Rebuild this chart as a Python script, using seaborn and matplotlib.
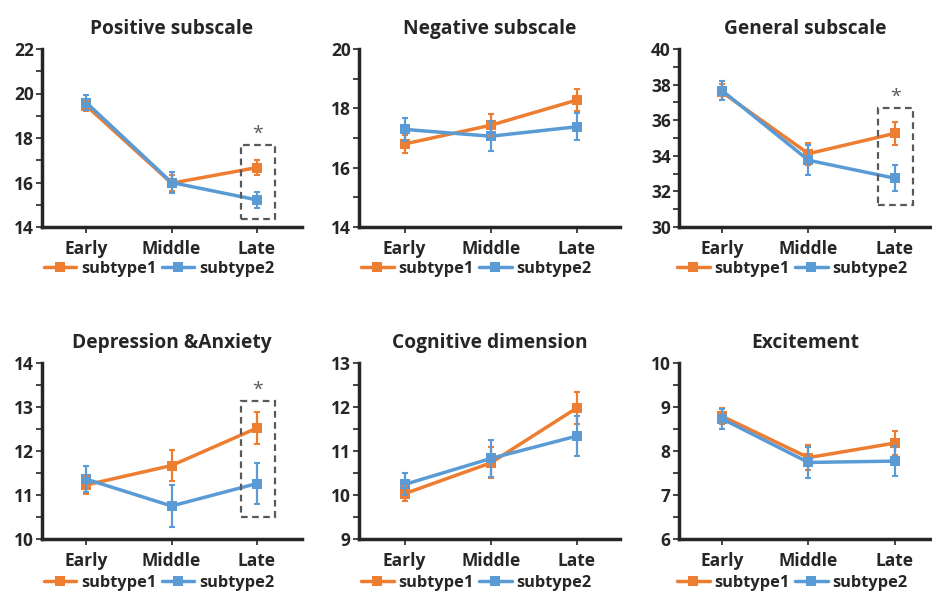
import pandas as pd
import matplotlib.pyplot as plt
import seaborn as sns
from matplotlib.patches import Rectangle
from matplotlib.ticker import MultipleLocator

# Stages and groups
stages = ['Early', 'Middle', 'Late']
groups = ['subtype1', 'subtype2']

# Panel titles and y ranges
titles = ['Positive subscale', 'Negative subscale', 'General subscale',
          'Depression &Anxiety', 'Cognitive dimension', 'Excitement']
ylims = [(14, 22), (14, 20), (30, 40), (10, 14), (9, 13), (6, 10)]
ysteps = [2, 2, 2, 1, 1, 1]

# Means (subtype1, subtype2) per panel
positive_s1 = [19.45, 15.97, 16.67]
positive_s2 = [19.59, 16.00, 15.22]
negative_s1 = [16.80, 17.43, 18.28]
negative_s2 = [17.29, 17.06, 17.38]
general_s1 = [37.57, 34.12, 35.26]
general_s2 = [37.66, 33.75, 32.74]
depression_s1 = [11.23, 11.67, 12.52]
depression_s2 = [11.36, 10.75, 11.26]
cognitive_s1 = [10.03, 10.73, 11.98]
cognitive_s2 = [10.24, 10.83, 11.34]
excitement_s1 = [8.79, 7.85, 8.18]
excitement_s2 = [8.73, 7.74, 7.77]

# Standard errors
positive_e1 = [0.22, 0.35, 0.35]
positive_e2 = [0.33, 0.45, 0.35]
negative_e1 = [0.30, 0.37, 0.36]
negative_e2 = [0.40, 0.50, 0.45]
general_e1 = [0.45, 0.62, 0.65]
general_e2 = [0.55, 0.85, 0.73]
depression_e1 = [0.20, 0.35, 0.37]
depression_e2 = [0.29, 0.48, 0.46]
cognitive_e1 = [0.17, 0.35, 0.37]
cognitive_e2 = [0.25, 0.43, 0.45]
excitement_e1 = [0.18, 0.28, 0.27]
excitement_e2 = [0.23, 0.36, 0.34]

means = [(positive_s1, positive_s2), (negative_s1, negative_s2),
         (general_s1, general_s2), (depression_s1, depression_s2),
         (cognitive_s1, cognitive_s2), (excitement_s1, excitement_s2)]
errs = [(positive_e1, positive_e2), (negative_e1, negative_e2),
        (general_e1, general_e2), (depression_e1, depression_e2),
        (cognitive_e1, cognitive_e2), (excitement_e1, excitement_e2)]

# Significance boxes: panel index -> (y bottom, y top, star y)
sig_boxes = {0: (14.36, 17.69, 18.2), 2: (31.24, 36.7, 37.3), 3: (10.5, 13.13, 13.38)}

colors = {'subtype1': '#ED7D31', 'subtype2': '#5B9BD5'}

sns.set_style('ticks')
plt.rcParams['font.family'] = ['Open Sans', 'DejaVu Sans']
plt.rcParams['font.weight'] = 'bold'

W, H = 932, 592
fig = plt.figure(figsize=(W / 100, H / 100), dpi=100)

# axes boxes in pixels (left, right, top, bottom)
cols = [(42, 302, (-0.52, 2.53)), (359, 620, (-0.53, 2.50)), (679, 931, (-0.50, 2.42))]
rows = [(49, 227), (363, 539)]

for i in range(6):
    r, c = divmod(i, 3)
    x0, x1, xl = cols[c]
    top, bot = rows[r]
    ax = fig.add_axes([x0 / W, 1 - bot / H, (x1 - x0) / W, (bot - top) / H])

    df = pd.DataFrame({
        'stage': stages * 2,
        'subtype': [groups[0]] * 3 + [groups[1]] * 3,
        'score': list(means[i][0]) + list(means[i][1]),
    })
    sns.lineplot(data=df, x='stage', y='score', hue='subtype', palette=colors,
                 marker='s', markersize=7, markeredgewidth=0, linewidth=2.5,
                 ax=ax, sort=False)
    for g, m, e in zip(groups, means[i], errs[i]):
        ax.errorbar(stages, m, yerr=e, fmt='none', ecolor=colors[g],
                    elinewidth=1.6, capsize=2.5, capthick=1.5, zorder=3)

    ax.set_xlim(*xl)
    ax.set_ylim(*ylims[i])
    ax.yaxis.set_major_locator(MultipleLocator(ysteps[i]))
    ax.yaxis.set_minor_locator(MultipleLocator(ysteps[i] / 2))
    ax.set_xlabel('')
    ax.set_ylabel('')
    ax.set_title(titles[i], fontsize=13.8, fontweight='bold', pad=11)
    for s in ['top', 'right']:
        ax.spines[s].set_visible(False)
    for s in ['left', 'bottom']:
        ax.spines[s].set_linewidth(2.5)
    ax.tick_params(axis='both', which='major', length=4, width=1.2, labelsize=12.5, pad=2)
    ax.tick_params(axis='y', which='minor', length=4, width=1.2)
    ax.tick_params(axis='x', pad=5)
    for lab in ax.get_xticklabels() + ax.get_yticklabels():
        lab.set_fontweight('bold')

    if i in sig_boxes:
        yb, yt, ys = sig_boxes[i]
        ax.add_patch(Rectangle((1.81, yb), 0.4, yt - yb, fill=False,
                               edgecolor='#595959', linestyle=(0, (3, 2)),
                               linewidth=1.6, zorder=4))
        ax.text(2.01, ys, '*', ha='center', va='center', fontsize=14,
                color='#595959', fontweight='normal')

    ax.legend(loc='center', bbox_to_anchor=(0.45, -0.235 if r == 0 else -0.25),
              ncol=2, frameon=False, fontsize=11.8, handlelength=2.0,
              handletextpad=0.3, columnspacing=0.3, borderaxespad=0)
    for t in ax.get_legend().get_texts():
        t.set_fontweight('bold')

plt.savefig('out.png', dpi=100)
